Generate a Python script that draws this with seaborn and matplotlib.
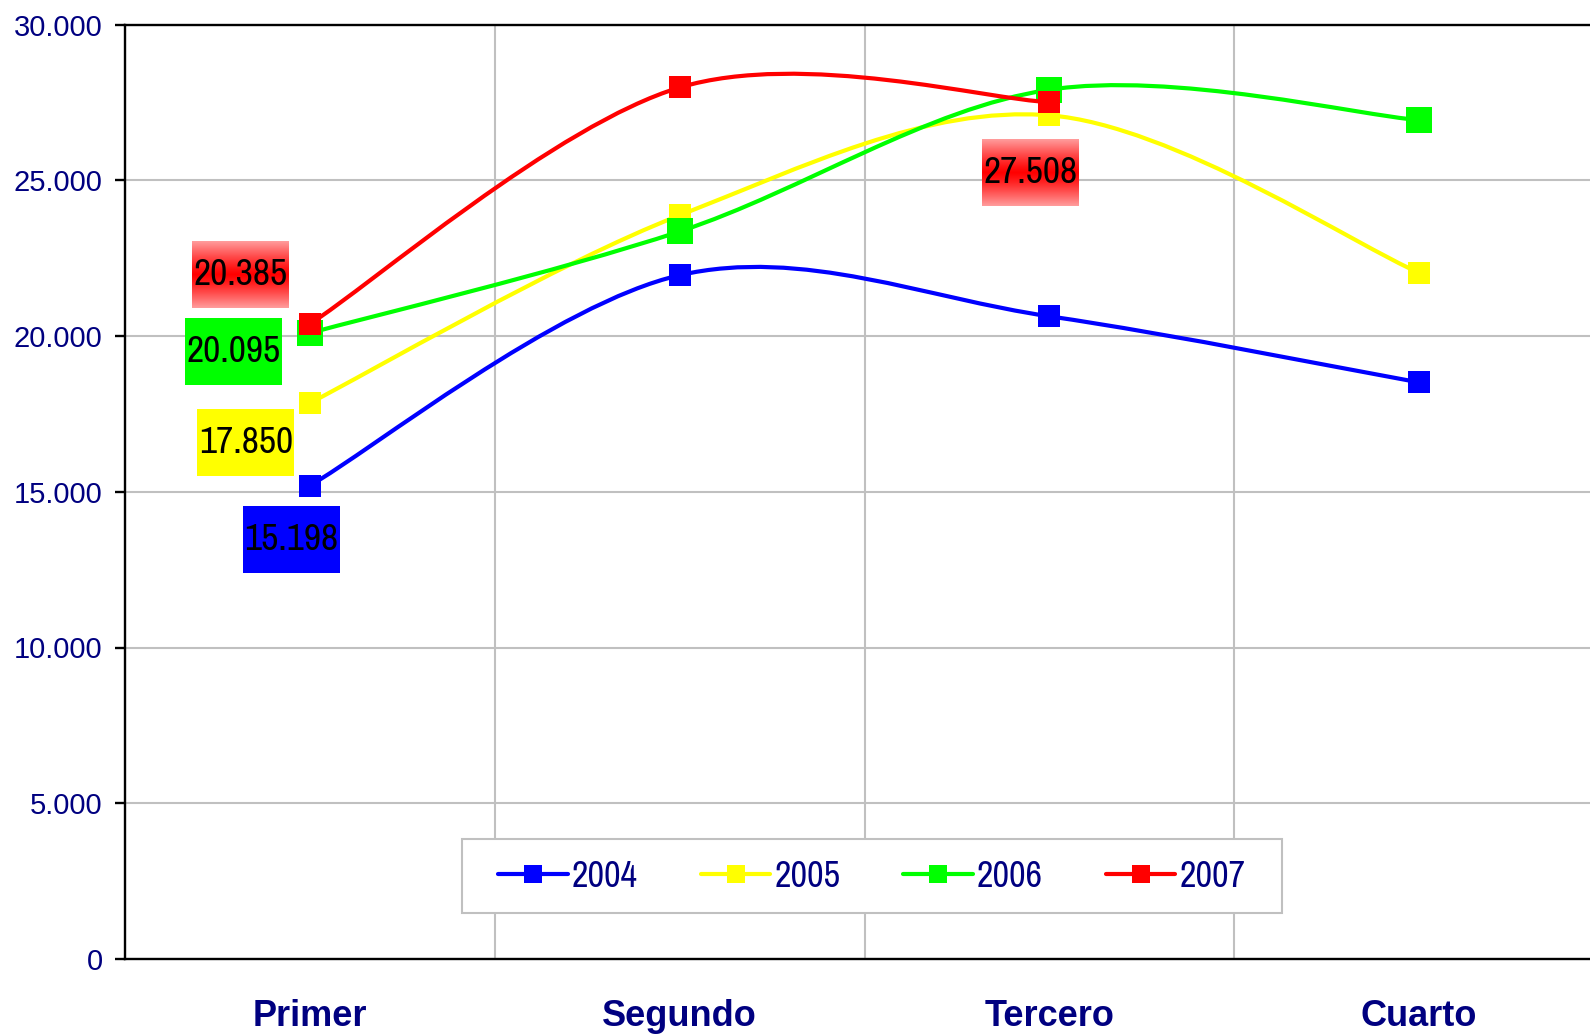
import matplotlib
matplotlib.use("Agg")
import matplotlib.pyplot as plt
import numpy as np
import pandas as pd
import seaborn as sns
from matplotlib import font_manager
from matplotlib.lines import Line2D
from matplotlib.patches import PathPatch, Rectangle
from matplotlib.path import Path
from matplotlib.colors import LinearSegmentedColormap
from matplotlib.ticker import FixedLocator, FuncFormatter
from matplotlib.transforms import IdentityTransform

# data
quarters = ["Primer", "Segundo", "Tercero", "Cuarto"]
years = ["2004", "2005", "2006", "2007"]
v2004 = [15198, 21952, 20632, 18510]
v2005 = [17850, 23875, 27085, 22030]
v2006 = [20095, 23355, 27907, 26930]
v2007 = [20385, 27978, 27508, np.nan]
colors = ["#0000FF", "#FFFF00", "#00FF00", "#FF0000"]

# labelled points: (year index, quarter index)
labelled = [(3, 0), (2, 0), (1, 0), (0, 0), (3, 2)]

W, H = 1590, 1034
NAVY = "#000080"
GRID = "#C0C0C0"

sns.set_style("white")
names = {f.name for f in font_manager.fontManager.ttflist}
NARROW = next((n for n in ["Liberation Sans Narrow", "Archivo Narrow"] if n in names), "Liberation Sans")
plt.rcParams["font.family"] = ["Liberation Sans", "DejaVu Sans"]

df = pd.DataFrame({
    "pos": np.tile(np.arange(len(quarters)) + 0.5, len(years)),
    "year": np.repeat(years, len(quarters)),
    "value": np.concatenate([v2004, v2005, v2006, v2007]),
})


def smooth_path(xs, ys):
    # Excel-like smoothed line (cubic Bezier through every point)
    pts = np.column_stack([xs, ys])
    n = len(pts)
    verts = [pts[0]]
    codes = [Path.MOVETO]
    for i in range(n - 1):
        p0 = pts[i - 1] if i > 0 else pts[i]
        p1, p2 = pts[i], pts[i + 1]
        p3 = pts[i + 2] if i + 2 < n else p2
        verts += [p1 + (p2 - p0) / 6, p2 - (p3 - p1) / 6, p2]
        codes += [Path.CURVE4] * 3
    return Path(verts, codes)


fig = plt.figure(figsize=(W / 100, H / 100), dpi=100)
ax = fig.add_axes([125 / W, 75 / H, 1479 / W, 934.5 / H])

for k, (year, color) in enumerate(zip(years, colors)):
    sub = df[df["year"] == year].dropna()
    ax.add_patch(PathPatch(smooth_path(sub["pos"].values, sub["value"].values),
                           fill=False, edgecolor=color, lw=3, zorder=3 + k,
                           capstyle="round", joinstyle="round"))
    msize = 18.5 if year == "2006" else 16.3
    sns.scatterplot(data=sub, x="pos", y="value", ax=ax, marker="s", s=msize ** 2,
                    color=color, linewidth=0, legend=False, zorder=3 + k)

ax.set_xlim(0, len(quarters))
ax.set_ylim(0, 30000)
ax.set_xlabel("")
ax.set_ylabel("")

ax.xaxis.set_major_locator(FixedLocator(np.arange(len(quarters)) + 0.5))
ax.set_xticklabels(quarters)
ax.xaxis.set_minor_locator(FixedLocator(np.arange(len(quarters) + 1)))
ax.tick_params(axis="x", which="major", length=0, pad=29, labelsize=26, labelcolor=NAVY)
for t in ax.get_xticklabels():
    t.set_fontweight("bold")
ax.tick_params(axis="x", which="minor", length=7.2, width=1.7, direction="out", color="black")
ax.set_yticks(np.arange(0, 30001, 5000))
ax.yaxis.set_major_formatter(FuncFormatter(lambda v, p: f"{v:,.0f}".replace(",", ".")))
ax.tick_params(axis="y", length=7.2, width=1.7, direction="out", pad=9,
               labelsize=21, labelcolor=NAVY, color="black", left=True)
ax.grid(False)
ax.grid(axis="y", which="major", color=GRID, lw=1.5, zorder=1)
ax.grid(axis="x", which="minor", color=GRID, lw=1.5, zorder=1)
ax.set_axisbelow(True)
for side in ["left", "bottom", "top"]:
    ax.spines[side].set_visible(True)
    ax.spines[side].set_color("black")
    ax.spines[side].set_linewidth(1.7)
ax.spines["right"].set_visible(False)

# legend
handles = [Line2D([], [], color=c, lw=3, marker="s", markersize=12.5, markeredgewidth=0)
           for c in colors]
leg = ax.legend(handles, years, loc="center", bbox_to_anchor=(0.505, 0.0888), ncol=4,
                frameon=False, prop={"family": NARROW, "size": 26}, labelcolor=NAVY,
                handlelength=1.92, handletextpad=0.11, columnspacing=1.75,
                borderpad=0.58)
leg.set_zorder(8)
fig.canvas.draw()
bb = leg.get_window_extent()
ax.add_patch(Rectangle((bb.x0 - 16, bb.y0), bb.width + 32, bb.height, transform=IdentityTransform(),
                       facecolor="white", edgecolor=GRID, lw=1.5, zorder=7, clip_on=False))

# data labels
red_grad = LinearSegmentedColormap.from_list("redgrad", ["#FF9C9C", "#FF0000"])
grad = 1 - np.abs(np.linspace(-1, 1, 100)) ** 1.2
offsets = {(3, 0): (-69.5, 49.5), (2, 0): (-76, -18.5), (1, 0): (-64, -40),
           (0, 0): (-18.5, -53.5), (3, 2): (-19, -70)}
all_vals = [v2004, v2005, v2006, v2007]
bw, bh = 97, 67
for (si, qi) in labelled:
    val = all_vals[si][qi]
    px, py = ax.transData.transform((qi + 0.5, val))
    dx, dy = offsets[(si, qi)]
    cx, cy = px + dx, py + dy
    lax = fig.add_axes([(cx - bw / 2) / W, (cy - bh / 2) / H, bw / W, bh / H], zorder=9)
    lax.set_axis_off()
    if colors[si] == "#FF0000":
        lax.imshow(grad[:, None], aspect="auto", cmap=red_grad, vmin=0, vmax=1,
                   extent=(0, 1, 0, 1))
    else:
        lax.add_patch(Rectangle((0, 0), 1, 1, facecolor=colors[si], edgecolor="none"))
    lax.set_xlim(0, 1)
    lax.set_ylim(0, 1)
    lax.text(0.5, 0.5, f"{val:,.0f}".replace(",", "."), ha="center", va="center",
             fontsize=27, family=NARROW, color="black")

fig.savefig("out.png", dpi=100)
